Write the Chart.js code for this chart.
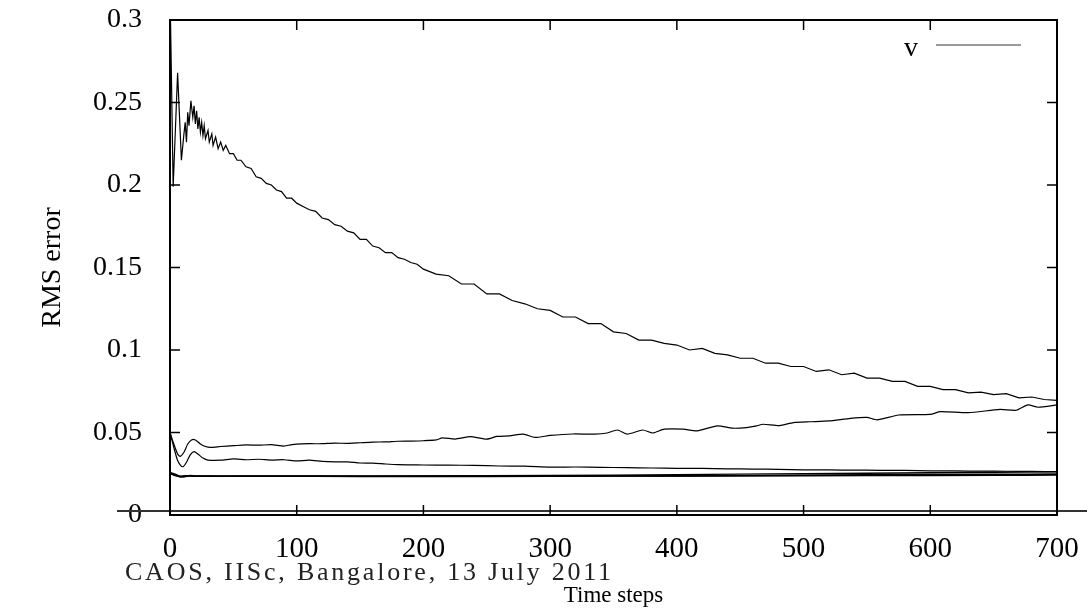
<!DOCTYPE html>
<html lang="en">
<head>
<meta charset="UTF-8" />
<title>RMS error</title>
<script src="https://cdn.jsdelivr.net/npm/chart.js"></script>
<style>
  body { margin: 0; background: #fff; }
  canvas { display: block; }
</style>
</head>
<body>
<canvas id="rmsChart" width="1087" height="610"></canvas>
<script>
  // --- data ---
  const mainSteps = [0, 2.5, 6, 9, 11, 12, 13, 14, 15, 16.5, 18, 19, 20, 21, 22, 23, 24, 25, 26, 27, 28, 30, 31, 33, 34, 36, 38, 40, 42, 44, 47, 50, 53, 56, 60, 64, 68, 72, 76, 80, 84, 88, 92, 96, 100,
    105, 110, 115, 120, 125, 130, 135, 140, 145, 150, 155, 160, 165, 170, 175, 180, 185, 190, 195, 200,
    210, 220, 230, 240, 250, 260, 270, 280, 290, 300, 310, 320, 330, 340, 350, 360, 370, 380, 390, 400,
    410, 420, 430, 440, 450, 460, 470, 480, 490, 500, 510, 520, 530, 540, 550, 560, 570, 580, 590, 600,
    610, 620, 630, 640, 650, 660, 670, 680, 690, 700];
  const mainError = [0.32, 0.199, 0.268, 0.215, 0.231, 0.238, 0.226, 0.244, 0.236, 0.251, 0.241, 0.248, 0.237, 0.245, 0.234, 0.241, 0.232, 0.238, 0.230, 0.236, 0.228, 0.233, 0.226, 0.231, 0.224, 0.229, 0.222, 0.226, 0.221, 0.224, 0.219, 0.219, 0.215, 0.215, 0.211, 0.210, 0.205, 0.204, 0.201, 0.200, 0.197, 0.196, 0.192, 0.192, 0.189,
    0.187, 0.185, 0.184, 0.180, 0.179, 0.176, 0.175, 0.172, 0.171, 0.167, 0.167, 0.163, 0.162, 0.159, 0.159, 0.156, 0.155, 0.153, 0.152, 0.149,
    0.146, 0.145, 0.140, 0.140, 0.134, 0.134, 0.130, 0.128, 0.125, 0.124, 0.120, 0.120, 0.116, 0.116, 0.111, 0.110, 0.106, 0.106, 0.104, 0.103,
    0.100, 0.101, 0.098, 0.097, 0.095, 0.095, 0.092, 0.092, 0.090, 0.090, 0.087, 0.088, 0.085, 0.086, 0.083, 0.083, 0.081, 0.081, 0.078, 0.078,
    0.076, 0.076, 0.074, 0.0745, 0.073, 0.0735, 0.071, 0.0715, 0.070, 0.0695];

  const risingSteps = [0, 3, 6, 8, 11, 14, 17, 20, 24, 28, 32, 40, 50, 60, 70, 80, 90, 95, 100, 110, 120, 130, 140, 150, 160, 170, 180, 190, 200,
    210, 215, 225, 237, 250, 258, 268, 279, 288, 300, 318, 335, 345, 353, 361, 373, 381, 390, 405, 416, 432, 444, 455, 463, 468, 481, 492,
    505, 520, 537, 550, 558, 575, 600, 608, 630, 655, 668, 677, 685, 700];
  const risingError = [0.050, 0.043, 0.037, 0.0355, 0.038, 0.043, 0.0455, 0.0455, 0.043, 0.0415, 0.041, 0.0415, 0.042, 0.0425, 0.0423, 0.0426, 0.0418, 0.0425, 0.043, 0.0432, 0.0432, 0.0436, 0.0434, 0.0438, 0.0442, 0.0443, 0.0447, 0.0448, 0.045,
    0.0455, 0.0468, 0.046, 0.0475, 0.046, 0.0476, 0.048, 0.049, 0.047, 0.0482, 0.0491, 0.049, 0.0497, 0.0515, 0.049, 0.0515, 0.0497, 0.052, 0.052, 0.051, 0.054, 0.0526, 0.053, 0.054, 0.055, 0.0542, 0.056,
    0.0565, 0.057, 0.0586, 0.0592, 0.0576, 0.0606, 0.061, 0.0626, 0.062, 0.064, 0.0635, 0.0667, 0.0653, 0.0667];

  const middleSteps = [0, 3, 6, 9, 10.5, 13, 16, 19, 22, 26, 30, 40, 50, 60, 70, 80, 90, 100, 110, 120, 130, 140, 150, 160, 170, 180, 190, 200,
    220, 240, 260, 280, 300, 320, 340, 360, 380, 400, 420, 440, 460, 480, 500, 520, 540, 560, 580, 600, 620, 640, 660, 680, 700];
  const middleError = [0.050, 0.041, 0.033, 0.0295, 0.0293, 0.032, 0.0365, 0.0384, 0.037, 0.0345, 0.0333, 0.0332, 0.034, 0.0335, 0.0338, 0.0333, 0.0335, 0.0328, 0.0332, 0.0325, 0.0322, 0.0322, 0.0315, 0.0314, 0.0309, 0.0305, 0.0304, 0.0303,
    0.0302, 0.0301, 0.0297, 0.0296, 0.029, 0.0291, 0.0289, 0.0287, 0.0285, 0.0283, 0.0282, 0.028, 0.0278, 0.0277, 0.0274, 0.0273, 0.0272, 0.0271, 0.0270, 0.0268, 0.0267, 0.0266, 0.0265, 0.0264, 0.0262];

  const lowSteps = [0, 4, 8, 12, 16, 20, 40, 80, 150, 250, 350, 450, 550, 650, 700];
  const lowErrorA = [0.0258, 0.0248, 0.0234, 0.0236, 0.0240, 0.0237, 0.0236, 0.0237, 0.0236, 0.0238, 0.0242, 0.0248, 0.0253, 0.0259, 0.0262];
  const lowErrorB = [0.0255, 0.0243, 0.0231, 0.0233, 0.0238, 0.0235, 0.0235, 0.0235, 0.0234, 0.0234, 0.0236, 0.0238, 0.0243, 0.0246, 0.0248];
  const lowErrorC = [0.0252, 0.0240, 0.0235, 0.0237, 0.0236, 0.0235, 0.0235, 0.0235, 0.0235, 0.0235, 0.0236, 0.0238, 0.0239, 0.0241, 0.0242];

  const xTickValues = [0, 100, 200, 300, 400, 500, 600, 700];
  const yTickValues = [0, 0.05, 0.1, 0.15, 0.2, 0.25, 0.3];
  const legendLabel = 'v';
  const footerText = 'CAOS, IISc, Bangalore, 13 July 2011';

  const serif = "'Liberation Serif', 'Times New Roman', serif";

  function toPoints(steps, values) {
    return steps.map((s, i) => ({ x: s, y: values[i] }));
  }

  function line(label, steps, values, width, tension) {
    return {
      label: label,
      data: toPoints(steps, values),
      borderColor: '#000',
      borderWidth: width,
      pointRadius: 0,
      tension: tension,
      fill: false
    };
  }

  // gnuplot-style frame, inward ticks, zero axis, key and footer
  const gnuplotDecor = {
    id: 'gnuplotDecor',
    afterDatasetsDraw(chart) {
      const { ctx, chartArea: a, scales: { x, y } } = chart;
      ctx.save();

      // zero axis drawn a bit above the frame, running past both edges
      ctx.strokeStyle = '#333';
      ctx.lineWidth = 2;
      ctx.beginPath();
      ctx.moveTo(117, a.bottom - 4);
      ctx.lineTo(chart.width, a.bottom - 4);
      ctx.stroke();

      // frame
      ctx.strokeStyle = '#000';
      ctx.lineWidth = 2;
      ctx.strokeRect(a.left, a.top, a.right - a.left, a.bottom - a.top);

      // inward ticks
      ctx.lineWidth = 1.5;
      ctx.beginPath();
      yTickValues.forEach(v => {
        const py = y.getPixelForValue(v);
        ctx.moveTo(a.left, py); ctx.lineTo(a.left + 10, py);
        ctx.moveTo(a.right, py); ctx.lineTo(a.right - 10, py);
      });
      xTickValues.forEach(v => {
        const px = x.getPixelForValue(v);
        ctx.moveTo(px, a.bottom); ctx.lineTo(px, a.bottom - 10);
        ctx.moveTo(px, a.top); ctx.lineTo(px, a.top + 10);
      });
      ctx.stroke();

      // key
      ctx.fillStyle = '#000';
      ctx.font = '28px ' + serif;
      ctx.textAlign = 'right';
      ctx.textBaseline = 'alphabetic';
      ctx.fillText(chart.data.datasets[0].label, a.right - 139, a.top + 36);
      ctx.strokeStyle = '#777';
      ctx.lineWidth = 1.5;
      ctx.beginPath();
      ctx.moveTo(a.right - 121, a.top + 25);
      ctx.lineTo(a.right - 36, a.top + 25);
      ctx.stroke();

      // footer stamp
      ctx.font = '26px ' + serif;
      ctx.textAlign = 'left';
      ctx.letterSpacing = '0px';
      const plain = ctx.measureText(footerText).width;
      const spacing = (486 - plain) / (footerText.length - 1);
      ctx.letterSpacing = spacing.toFixed(2) + 'px';
      ctx.fillStyle = '#222';
      ctx.fillText(footerText, 125, 580);
      ctx.restore();
    }
  };

  const ctx = document.getElementById('rmsChart').getContext('2d');
  const rmsChart = new Chart(ctx, {
    type: 'line',
    data: {
      datasets: [
        line(legendLabel, mainSteps, mainError, 1.2, 0),
        line('', risingSteps, risingError, 1.2, 0.2),
        line('', middleSteps, middleError, 1.2, 0.2),
        line('', lowSteps, lowErrorA, 1.3, 0.2),
        line('', lowSteps, lowErrorB, 1.6, 0.2),
        line('', lowSteps, lowErrorC, 1.6, 0.2)
      ]
    },
    options: {
      responsive: false,
      animation: false,
      layout: { padding: { top: 20, right: 30, left: 0, bottom: 0 } },
      plugins: {
        legend: { display: false },
        tooltip: { enabled: false }
      },
      scales: {
        x: {
          type: 'linear',
          min: 0,
          max: 700,
          grid: { display: false },
          border: { display: false },
          afterBuildTicks: s => { s.ticks = xTickValues.map(v => ({ value: v })); },
          afterFit: s => { s.height = 95; s.paddingLeft = 0; s.paddingRight = 0; },
          ticks: {
            color: '#000',
            padding: 9,
            maxRotation: 0,
            font: { family: serif, size: 29 },
            callback: v => String(v)
          },
          title: {
            display: true,
            text: 'Time steps',
            color: '#000',
            font: { family: serif, size: 23 },
            padding: { top: 0, bottom: 0 }
          }
        },
        y: {
          type: 'linear',
          min: 0,
          max: 0.3,
          grid: { display: false },
          border: { display: false },
          afterBuildTicks: s => { s.ticks = yTickValues.map(v => ({ value: v })); },
          afterFit: s => { s.width = 170; s.paddingTop = 0; s.paddingBottom = 0; },
          ticks: {
            color: '#000',
            padding: 20,
            font: { family: serif, size: 28 },
            callback: v => String(+v.toFixed(2))
          },
          title: {
            display: true,
            text: 'RMS error',
            color: '#000',
            font: { family: serif, size: 28 },
            padding: { top: 36, bottom: 0 }
          }
        }
      }
    },
    plugins: [gnuplotDecor]
  });
</script>
</body>
</html>
